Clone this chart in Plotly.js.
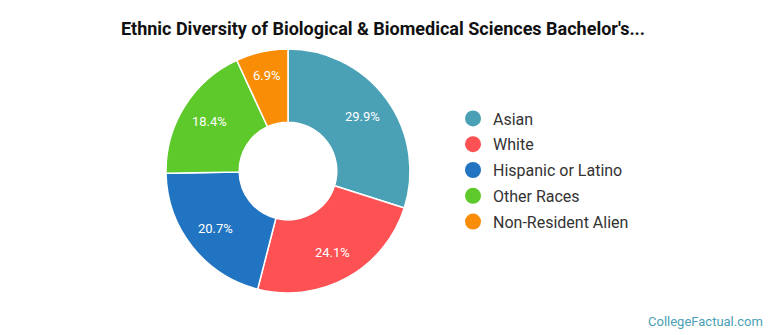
<!DOCTYPE html>
<html>
<head>
<meta charset="utf-8">
<script src="https://cdn.plot.ly/plotly-3.0.1.min.js"></script>
<style>html,body{margin:0;padding:0;background:#fff;}#chart{width:770px;height:335px;}</style>
</head>
<body>
<div id="chart"></div>
<script>
const categories = ["Asian", "White", "Hispanic or Latino", "Other Races", "Non-Resident Alien"];
const shares = [29.9, 24.1, 20.7, 18.4, 6.9];
const colors = ["#4aa0b5", "#fd5154", "#2074c1", "#5dc92a", "#f98e06"];
const titleText = "Ethnic Diversity of Biological &amp; Biomedical Sciences Bachelor's...";
const sourceText = "CollegeFactual.com";

const W = 770, H = 335;
const CX = 288, CY = 171, R = 122;
const pie = {
  type: "pie",
  values: shares,
  labels: categories,
  sort: false,
  direction: "clockwise",
  rotation: 0,
  hole: 0.4,
  marker: {colors: colors, line: {color: "#ffffff", width: 1.5}},
  textinfo: "none",
  domain: {x: [(CX - R) / W, (CX + R) / W], y: [1 - (CY + R) / H, 1 - (CY - R) / H]},
  showlegend: false,
  hoverinfo: "label+percent"
};
const legendTraces = categories.map((c, i) => ({
  type: "scatter",
  mode: "markers",
  x: [null], y: [null],
  name: c,
  legendgroup: "g" + i,
  marker: {symbol: "circle", size: 16, color: colors[i]},
  showlegend: true,
  hoverinfo: "skip"
}));

// slice labels placed along each slice's mid angle
const total = shares.reduce((a, b) => a + b, 0);
let cum = 0;
const labelAnnots = shares.map((v) => {
  const mid = (cum + v / 2) / total * 2 * Math.PI;
  cum += v;
  const r = (v < 10 ? 0.8 : 0.76) * R;
  return {
    text: v.toFixed(1) + "%",
    xref: "paper", yref: "paper",
    x: (CX + r * Math.sin(mid)) / W,
    y: 1 - (CY - r * Math.cos(mid)) / H,
    xanchor: "center", yanchor: "middle",
    showarrow: false,
    font: {family: "Roboto", size: 13, color: "#ffffff"}
  };
});

const layout = {
  width: W, height: H,
  margin: {l: 0, r: 0, t: 0, b: 0},
  paper_bgcolor: "#ffffff",
  plot_bgcolor: "#ffffff",
  font: {family: "Roboto", color: "#333333"},
  title: {
    text: "<b>" + titleText + "</b>",
    font: {family: "Roboto", size: 18, color: "#111111"},
    x: 383 / W, xanchor: "center", xref: "container",
    y: 1 - 29 / H, yanchor: "middle", yref: "container"
  },
  xaxis: {visible: false, domain: [0.99, 1]},
  yaxis: {visible: false, domain: [0.99, 1]},
  legend: {
    x: 453 / W, xanchor: "left",
    y: 1 - 170 / H, yanchor: "middle",
    font: {family: "Roboto", size: 16, color: "#333333"},
    traceorder: "grouped",
    tracegroupgap: 2,
    itemclick: false, itemdoubleclick: false
  },
  annotations: labelAnnots.concat([{
    text: sourceText, xref: "paper", yref: "paper",
    x: 765 / W, xanchor: "right", y: 1 - 321 / H, yanchor: "middle",
    showarrow: false,
    font: {family: "Roboto", size: 13, color: "#4a9fb5"}
  }])
};
Plotly.newPlot("chart", [pie].concat(legendTraces), layout, {displayModeBar: false, staticPlot: true});
</script>
</body>
</html>
